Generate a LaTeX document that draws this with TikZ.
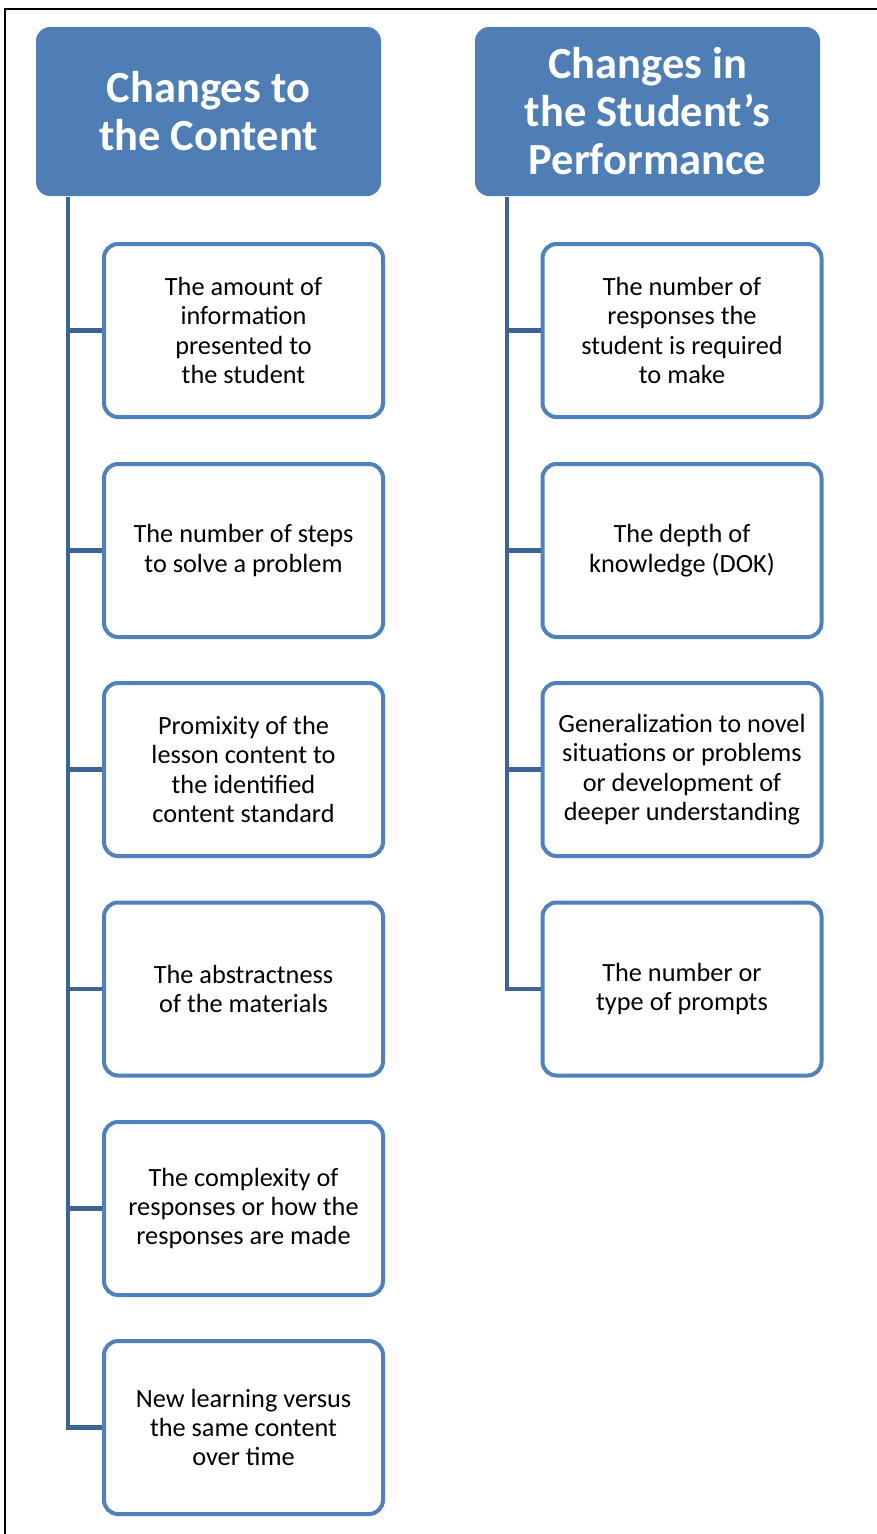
\documentclass[tikz,border=0pt]{standalone}
\usepackage{fontspec}
\setmainfont{Carlito}
\begin{document}
\begin{tikzpicture}[x=1pt,y=-1pt,
  header/.style={fill=hdrblue, draw=none, rounded corners=14pt, minimum width=345pt, minimum height=169pt,
    inner sep=0pt, align=center, text=white, font=\fontsize{44.5}{48}\selectfont\bfseries},
  child/.style={fill=white, draw=boxblue, line width=4pt, rounded corners=14pt, minimum width=279pt, minimum height=173pt,
    inner sep=0pt, align=center, text=black, font=\fontsize{26.3}{29.4}\selectfont},
  conn/.style={draw=connblue, line width=4.5pt}]
\definecolor{hdrblue}{HTML}{4F7DB5}
\definecolor{boxblue}{HTML}{4F81BD}
\definecolor{connblue}{HTML}{3E6496}
\useasboundingbox (0,0) rectangle (877,1534);
% frame
\draw[line width=1.5pt, black] (5,1534) -- (5,9) -- (877,9);
% headers
\node[header] (h1) at (208.5,111.5) {Changes to\\the Content};
\node[header] (h2) at (647.5,111.5) {Changes in\\the Student’s\\Performance};
\coordinate (t1) at (68,197);
\coordinate (t2) at (507,197);
% left children
\node[child] (c1) at (243.5,330.5) {The amount of\\information\\presented to\\the student};
\node[child] (c2) at (243.5,550.5) {The number of steps\\to solve a problem};
\node[child] (c3) at (243.5,769.5) {Promixity of the\\lesson content to\\the identified\\content standard};
\node[child] (c4) at (243.5,989) {The abstractness\\of the materials};
\node[child] (c5) at (243.5,1208.5) {The complexity of\\responses or how the\\responses are made};
\node[child] (c6) at (243.5,1427.5) {New learning versus\\the same content\\over time};
% right children
\node[child] (d1) at (682,330.5) {The number of\\responses the\\student is required\\to make};
\node[child] (d2) at (682,550.5) {The depth of\\knowledge (DOK)};
\node[child] (d3) at (682,769.5) {Generalization to novel\\situations or problems\\or development of\\deeper understanding};
\node[child] (d4) at (682,989) {The number or\\type of prompts};
% connectors
\foreach \c in {c1,c2,c3,c4,c5,c6} { \draw[conn] (t1) |- (\c.west); }
\foreach \c in {d1,d2,d3,d4} { \draw[conn] (t2) |- (\c.west); }
\end{tikzpicture}
\end{document}
